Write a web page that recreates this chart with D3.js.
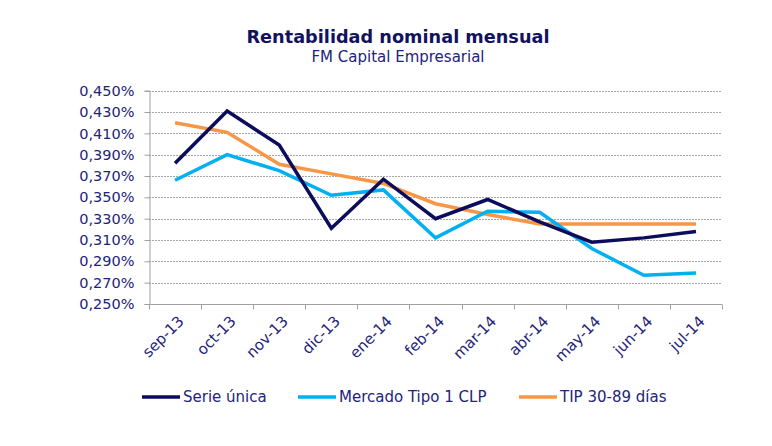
<!DOCTYPE html>
<html><head><meta charset="utf-8">
<script src="https://cdn.jsdelivr.net/npm/d3@7"></script>
<style>body{margin:0;background:#fff}svg{display:block}</style>
</head><body>
<script>
const categories = ["sep-13","oct-13","nov-13","dic-13","ene-14","feb-14","mar-14","abr-14","may-14","jun-14","jul-14"];
const serieUnica = [0.382,0.431,0.399,0.321,0.367,0.330,0.348,0.327,0.308,0.312,0.318];
const mercadoTipo1 = [0.366,0.390,0.375,0.352,0.357,0.312,0.337,0.336,0.302,0.277,0.279];
const tip3089 = [0.420,0.411,0.381,0.372,0.363,0.344,0.334,0.325,0.325,0.325,0.325];
const yTicks = [0.25,0.27,0.29,0.31,0.33,0.35,0.37,0.39,0.41,0.43,0.45];
const seriesNames = ["Serie única","Mercado Tipo 1 CLP","TIP 30-89 días"];
const seriesColors = ["#0c0c5c","#00b0f0","#f79646"];

const W=772,H=446;
const svg=d3.select("body").append("svg").attr("width",W).attr("height",H);
const font="DejaVu Sans, Verdana, sans-serif";
const txt="#23237a";

const x=d3.scaleBand().domain(categories).range([149,722]).padding(0);
const y=d3.scaleLinear().domain([0.25,0.45]).range([304,90.7]);

// gridlines
svg.append("g").selectAll("line").data(yTicks.slice(1)).join("line")
  .attr("x1",149).attr("x2",722).attr("y1",d=>Math.round(y(d))+0.5).attr("y2",d=>Math.round(y(d))+0.5)
  .attr("stroke","#a6a6a6").attr("stroke-width",1).attr("stroke-dasharray","2,1");

// y axis
const fmt=d=>d3.format(".3f")(d).replace(".",",")+"%";
const yAxis=svg.append("g").attr("transform","translate(149.5,0)")
  .call(d3.axisLeft(y).tickValues(yTicks).tickFormat(fmt).tickSize(5).tickPadding(10));
yAxis.select(".domain").attr("stroke","#a0a0a0");
yAxis.selectAll(".tick line").attr("stroke","#a0a0a0");
yAxis.selectAll(".tick text").attr("fill",txt).style("font-family",font).style("font-size","14.5px");

// x axis
const xAxis=svg.append("g").attr("transform","translate(0,304.5)");
xAxis.append("line").attr("x1",149).attr("x2",722).attr("stroke","#a0a0a0");
const bounds=categories.map(c=>x(c)).concat([x.range()[1]]);
xAxis.selectAll(".tk").data(bounds).join("line").attr("class","tk")
  .attr("x1",d=>Math.round(d)+0.5).attr("x2",d=>Math.round(d)+0.5).attr("y1",0).attr("y2",5).attr("stroke","#a0a0a0");
xAxis.selectAll("text").data(categories).join("text")
  .attr("transform",d=>`translate(${x(d)+x.bandwidth()/2+6},${14}) rotate(-45)`)
  .attr("text-anchor","end").attr("dy","0.35em")
  .attr("fill",txt).style("font-family",font).style("font-size","15px").text(d=>d);

// lines
const data=[serieUnica,mercadoTipo1,tip3089];
const line=d3.line().x((d,i)=>x(categories[i])+x.bandwidth()/2).y(d=>y(d));
const order=[2,1,0];
svg.append("g").selectAll("path").data(order).join("path")
  .attr("d",k=>line(data[k])).attr("fill","none").attr("stroke",k=>seriesColors[k])
  .attr("stroke-width",3.5).attr("stroke-linejoin","miter");

// title
svg.append("text").attr("x",398).attr("y",43).attr("text-anchor","middle")
  .attr("fill","#12125e").style("font-family",font).style("font-weight","bold").style("font-size","17.7px")
  .text("Rentabilidad nominal mensual");
svg.append("text").attr("x",398).attr("y",62).attr("text-anchor","middle")
  .attr("fill",txt).style("font-family",font).style("font-size","15px")
  .text("FM Capital Empresarial");

// legend
const legX=[142,298,519];
const lg=svg.append("g").selectAll("g").data(seriesNames).join("g")
  .attr("transform",(d,i)=>`translate(${legX[i]},397)`);
lg.append("line").attr("x1",0).attr("x2",38).attr("stroke",(d,i)=>seriesColors[i]).attr("stroke-width",3.5);
lg.append("text").attr("x",41).attr("dy","0.35em").attr("fill",txt)
  .style("font-family",font).style("font-size","15px").text(d=>d);
</script>
</body></html>
